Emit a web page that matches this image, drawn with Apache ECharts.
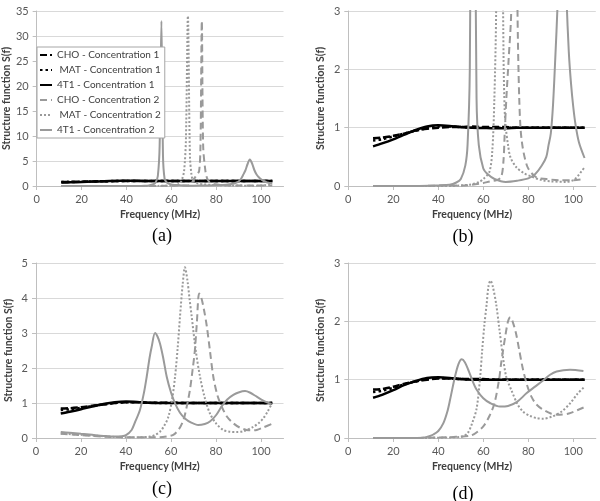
<!DOCTYPE html>
<html><head><meta charset="utf-8">
<script src="https://cdn.jsdelivr.net/npm/echarts@6/dist/echarts.min.js"></script>
<style>html,body{margin:0;padding:0;background:#fff}#c{width:600px;height:501px}</style>
</head><body><div id="c"></div>
<script>
// ---------- DATA ----------
const xTicks = [0, 20, 40, 60, 80, 100];
const seriesNames = ['CHO - Concentration 1', 'MAT - Concentration 1', '4T1 - Concentration 1',
                     'CHO - Concentration 2', 'MAT - Concentration 2', '4T1 - Concentration 2'];
const panelLabels = ['(a)', '(b)', '(c)', '(d)'];
const yMaxes = [35, 3, 5, 3];
const yIntervals = [5, 1, 1, 1];

// Concentration 1 (black) curves share a frequency grid
const freqC1 = [11, 15, 20, 25, 30, 35, 40, 45, 50, 55, 60, 65, 70, 75, 80, 85, 90, 95, 100, 105];
// panels (a) and (b)
const ab_CHO1 = [0.82, 0.83, 0.86, 0.9, 0.95, 0.98, 1.0, 1.01, 1.01, 1.02, 1.01, 1.01, 1.01, 1.0, 1.0, 1.0, 1.0, 1.0, 1.0, 1.0];
const ab_MAT1 = [0.78, 0.8, 0.85, 0.9, 0.95, 0.99, 1.02, 1.02, 1.01, 1.0, 1.0, 1.0, 1.0, 1.0, 1.0, 1.0, 1.0, 1.0, 1.0, 1.0];
const ab_4T11 = [0.68, 0.73, 0.8, 0.88, 0.96, 1.02, 1.04, 1.03, 1.01, 1.0, 0.995, 0.99, 0.99, 1.0, 1.0, 1.0, 1.0, 1.0, 1.0, 1.0];
// panel (c)
const c_CHO1 = [0.84, 0.85, 0.88, 0.92, 0.96, 1.0, 1.02, 1.02, 1.01, 1.01, 1.01, 1.0, 1.0, 1.0, 1.0, 1.0, 1.0, 1.0, 1.0, 1.0];
const c_MAT1 = [0.8, 0.82, 0.86, 0.91, 0.96, 1.0, 1.02, 1.02, 1.01, 1.0, 1.0, 1.0, 1.0, 1.0, 1.0, 1.0, 1.0, 1.0, 1.0, 1.0];
const c_4T11 = [0.7, 0.75, 0.82, 0.9, 0.97, 1.02, 1.04, 1.03, 1.01, 1.0, 1.0, 1.0, 1.0, 1.0, 1.0, 1.0, 1.0, 1.0, 1.0, 1.0];
// panel (d)
const d_CHO1 = [0.83, 0.84, 0.88, 0.93, 0.97, 1.0, 1.02, 1.02, 1.01, 1.01, 1.01, 1.0, 1.0, 1.0, 1.0, 1.0, 1.0, 1.0, 1.0, 1.0];
const d_MAT1 = [0.79, 0.81, 0.86, 0.92, 0.97, 1.01, 1.03, 1.02, 1.01, 1.0, 1.0, 1.0, 1.0, 1.0, 1.0, 1.0, 1.0, 1.0, 1.0, 1.0];
const d_4T11 = [0.69, 0.74, 0.82, 0.91, 0.98, 1.03, 1.04, 1.03, 1.01, 1.0, 1.0, 1.0, 1.0, 1.0, 1.0, 1.0, 1.0, 1.0, 1.0, 1.0];

// Concentration 2 (grey) curves, panels (a) and (b)
const ab_CHO2_f = [11, 30, 45, 50, 55, 60, 63, 66, 68, 69, 69.5, 70.2, 71.3, 72.4, 73, 73.6, 74.2, 75.2, 76, 77, 79.6, 83.5, 88, 93.8, 100, 105];
const ab_CHO2_v = [0, 0, 0.01, 0.01, 0.02, 0.05, 0.08, 0.1, 0.16, 0.45, 0.9, 1.47, 2.2, 3, 8, 33, 8, 3, 1.47, 0.8, 0.33, 0.15, 0.12, 0.1, 0.1, 0.12];
const ab_MAT2_f = [11, 30, 45, 50, 55, 58.2, 60, 62.7, 64, 64.9, 65.7, 66.5, 67.4, 68.3, 69, 69.5, 70, 71, 72, 74.5, 78, 81.6, 86, 90, 96.8, 100, 102, 104, 105];
const ab_MAT2_v = [0, 0, 0, 0.01, 0.03, 0.07, 0.12, 0.24, 0.6, 1.47, 3, 9, 34, 6, 2.2, 1.3, 1.0, 0.7, 0.5, 0.33, 0.22, 0.16, 0.1, 0.08, 0.07, 0.1, 0.17, 0.27, 0.32];
const ab_4T12_f = [11, 20, 30, 40, 45, 48, 50, 52, 53, 54, 54.8, 55.6, 56.3, 57, 58, 60, 62, 65, 70, 75, 80, 83, 86, 88, 89, 90, 91, 92, 93, 94, 95, 96, 97, 98, 99, 100, 101, 102.5, 105];
const ab_4T12_v = [0, 0, 0, 0.01, 0.02, 0.06, 0.12, 0.35, 0.7, 2.0, 8, 33, 6, 1.5, 0.7, 0.3, 0.2, 0.12, 0.07, 0.09, 0.13, 0.2, 0.35, 0.5, 0.7, 0.9, 1.4, 2.2, 3.1, 4.4, 5.3, 4.5, 3.2, 2.3, 1.75, 1.35, 1.05, 0.75, 0.48];

// panel (c)
const c_CHO2_f = [11, 20, 30, 40, 50, 55, 58, 61, 63.5, 65.5, 67, 68.4, 69.5, 70.6, 71.5, 72.5, 73.5, 74.7, 75.9, 77.3, 78.8, 80.5, 82.5, 85, 87.7, 90.5, 93.6, 96, 98.1, 101, 104.7];
const c_CHO2_v = [0.12, 0.08, 0.04, 0.02, 0.02, 0.02, 0.04, 0.09, 0.25, 0.51, 0.9, 1.37, 1.9, 2.5, 3.3, 4.13, 4.0, 3.65, 3.2, 2.5, 1.75, 1.25, 0.9, 0.6, 0.42, 0.3, 0.23, 0.22, 0.23, 0.3, 0.4];
const c_MAT2_f = [11, 20, 30, 40, 45, 50.7, 53, 55.1, 57, 58.8, 60.5, 61.8, 63, 64, 65.2, 66.2, 67.3, 68.2, 69.2, 71, 72.9, 75, 77.3, 80, 83.2, 86, 89.2, 92, 96.6, 99, 101, 103, 104.7];
const c_MAT2_v = [0.13, 0.09, 0.05, 0.02, 0.02, 0.04, 0.09, 0.18, 0.35, 0.6, 1.1, 1.75, 2.6, 3.47, 4.4, 4.88, 4.5, 4.0, 3.47, 2.5, 1.75, 1.15, 0.7, 0.42, 0.23, 0.18, 0.17, 0.19, 0.32, 0.43, 0.56, 0.76, 0.97];
const c_4T12_f = [11, 15, 20, 25, 30, 35, 38, 40, 42.5, 44, 46.2, 48, 49.2, 50.5, 51.4, 52.9, 54, 55.1, 56.5, 58.1, 60, 61.8, 64, 66.2, 69, 72.1, 75, 77.3, 80, 82.5, 85, 87.7, 90, 92.9, 95, 98.1, 101, 104.7];
const c_4T12_v = [0.17, 0.15, 0.12, 0.09, 0.06, 0.04, 0.05, 0.08, 0.23, 0.45, 0.8, 1.3, 1.75, 2.3, 2.6, 3.0, 2.9, 2.7, 2.3, 1.75, 1.3, 0.99, 0.72, 0.56, 0.44, 0.37, 0.4, 0.47, 0.65, 0.9, 1.1, 1.23, 1.3, 1.34, 1.3, 1.18, 1.07, 0.97];

// panel (d)
const d_CHO2_f = [11, 30, 40, 48, 55, 60, 63, 65, 67, 68, 70, 71, 72, 73, 74.5, 76, 77.5, 79.5, 81.5, 83.5, 86, 90, 94, 98, 102, 105];
const d_CHO2_v = [0, 0, 0.01, 0.02, 0.05, 0.2, 0.4, 0.6, 1.0, 1.3, 1.8, 2.0, 2.07, 2.0, 1.8, 1.5, 1.2, 0.9, 0.7, 0.58, 0.5, 0.42, 0.4, 0.42, 0.48, 0.53];
const d_MAT2_f = [11, 30, 45, 50, 53, 55, 57, 58.5, 59.5, 60.5, 61.5, 62.3, 63.2, 64.2, 65.7, 67.2, 68.7, 70.2, 72.7, 75.2, 77.7, 80.7, 83.7, 86.7, 90.7, 94.7, 98.7, 101.7, 105];
const d_MAT2_v = [0, 0, 0.01, 0.02, 0.08, 0.25, 0.5, 1.0, 1.5, 1.95, 2.3, 2.6, 2.7, 2.6, 2.3, 1.85, 1.4, 1.05, 0.8, 0.58, 0.45, 0.38, 0.34, 0.33, 0.37, 0.45, 0.6, 0.75, 0.88];
const d_4T12_f = [11, 20, 30, 34, 36, 37.8, 40, 42.2, 44, 45.2, 47.4, 49, 50.4, 51.8, 53.3, 55, 57, 60, 63, 67.4, 71, 75, 79.3, 83, 86.7, 89.5, 92.6, 98.5, 104.5];
const d_4T12_v = [0, 0, 0, 0.01, 0.03, 0.06, 0.12, 0.25, 0.45, 0.65, 1.05, 1.27, 1.35, 1.3, 1.17, 1.0, 0.83, 0.68, 0.6, 0.54, 0.55, 0.62, 0.77, 0.88, 0.99, 1.08, 1.14, 1.17, 1.15];

// ---------- CHART ----------
const BLACK = '#000000', GREY = '#9a9a9a';
const styles = [
  {color: BLACK, width: 2.5, type: [7, 3]},
  {color: BLACK, width: 2.5, type: [2.5, 3]},
  {color: BLACK, width: 2.5, type: 'solid'},
  {color: GREY, width: 2, type: [7, 4]},
  {color: GREY, width: 2, type: [2, 2]},
  {color: GREY, width: 2, type: 'solid'}
];
const panels = [
  [[freqC1, ab_CHO1], [freqC1, ab_MAT1], [freqC1, ab_4T11], [ab_CHO2_f, ab_CHO2_v], [ab_MAT2_f, ab_MAT2_v], [ab_4T12_f, ab_4T12_v]],
  [[freqC1, ab_CHO1], [freqC1, ab_MAT1], [freqC1, ab_4T11], [ab_CHO2_f, ab_CHO2_v], [ab_MAT2_f, ab_MAT2_v], [ab_4T12_f, ab_4T12_v]],
  [[freqC1, c_CHO1], [freqC1, c_MAT1], [freqC1, c_4T11], [c_CHO2_f, c_CHO2_v], [c_MAT2_f, c_MAT2_v], [c_4T12_f, c_4T12_v]],
  [[freqC1, d_CHO1], [freqC1, d_MAT1], [freqC1, d_4T11], [d_CHO2_f, d_CHO2_v], [d_MAT2_f, d_MAT2_v], [d_4T12_f, d_4T12_v]]
];
const gridPos = [
  {left: 36, top: 11}, {left: 348.3, top: 11}, {left: 36, top: 263}, {left: 348.3, top: 263}
];
const captionPos = [[162, 236], [463, 237], [162, 489], [463, 494]];
const FONT = 'Lato, "Open Sans", sans-serif';
const AXC = '#bfbfbf', LBL = '#595959';

const grid = [], xAxis = [], yAxis = [], series = [], graphic = [];
gridPos.forEach((g, i) => {
  grid.push({left: g.left, top: g.top, width: 247.5, height: 175, containLabel: false});
  xAxis.push({
    type: 'value', gridIndex: i, min: 0, max: 110, interval: 20,
    name: 'Frequency (MHz)', nameLocation: 'middle', nameGap: 23,
    nameTextStyle: {fontFamily: FONT, fontSize: 10.5, fontWeight: 'bold', color: '#404040'},
    axisLine: {show: true, lineStyle: {color: AXC, width: 1}},
    axisTick: {show: true, length: 4, lineStyle: {color: AXC}, customValues: xTicks},
    axisLabel: {fontFamily: FONT, fontSize: 11, color: LBL, margin: 8, customValues: xTicks},
    splitLine: {show: false}
  });
  yAxis.push({
    type: 'value', gridIndex: i, min: 0, max: yMaxes[i], interval: yIntervals[i],
    name: 'Structure function S(f)', nameLocation: 'middle', nameGap: 22,
    nameTextStyle: {fontFamily: FONT, fontSize: 10.5, fontWeight: 'bold', color: '#404040'},
    axisLine: {show: true, lineStyle: {color: AXC, width: 1}},
    axisTick: {show: true, length: 4, lineStyle: {color: AXC}},
    axisLabel: {fontFamily: FONT, fontSize: 11, color: LBL, margin: 8},
    splitLine: {show: true, lineStyle: {color: '#d9d9d9', width: 1}}
  });
  panels[i].forEach((pair, k) => {
    const st = styles[k];
    series.push({
      type: 'line', name: seriesNames[k], xAxisIndex: i, yAxisIndex: i,
      data: pair[0].map((f, j) => [f, pair[1][j]]),
      showSymbol: false, symbol: 'none', smooth: 0.3, clip: true,
      lineStyle: {color: st.color, width: st.width, type: st.type},
      itemStyle: {color: st.color},
      silent: true, animation: false
    });
  });
  graphic.push({
    type: 'text', x: captionPos[i][0], y: captionPos[i][1],
    style: {text: panelLabels[i], font: '18px "Liberation Serif", serif', fill: '#000', align: 'center', verticalAlign: 'middle'}
  });
});

const chart = echarts.init(document.getElementById('c'), null, {renderer: 'canvas'});
chart.setOption({
  animation: false,
  grid, xAxis, yAxis, series, graphic,
  legend: {
    show: true, orient: 'vertical', left: 37, top: 47,
    data: seriesNames, itemWidth: 12, itemHeight: 10, itemGap: 5,
    padding: [3, 4, 3, 2], backgroundColor: '#fff', borderColor: '#a6a6a6', borderWidth: 1,
    selectedMode: false,
    itemStyle: {opacity: 0, borderWidth: 0},
    formatter: n => (n.indexOf('MAT') === 0 ? ' ' + n : n),
    textStyle: {fontFamily: FONT, fontSize: 10, color: '#404040'}
  }
});
</script></body></html>
